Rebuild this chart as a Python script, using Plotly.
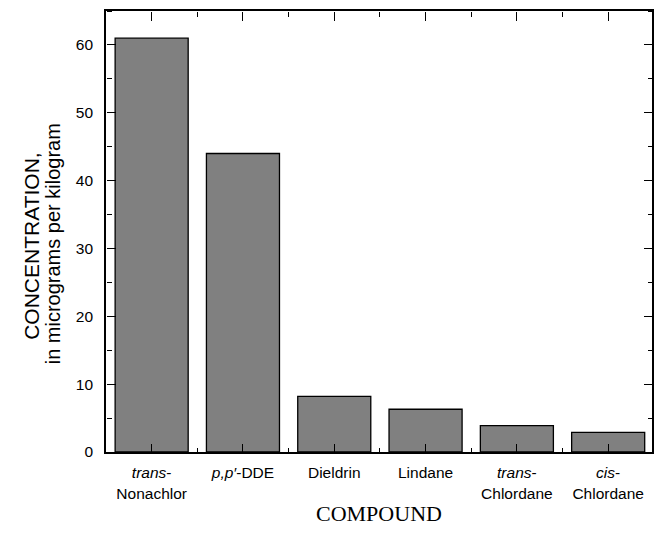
import plotly.graph_objects as go

compounds = ["<i>trans</i>-<br>Nonachlor", "<i>p,p′</i>-DDE", "Dieldrin", "Lindane",
             "<i>trans</i>-<br>Chlordane", "<i>cis</i>-<br>Chlordane"]
concentration = [61, 44, 8.2, 6.3, 3.9, 2.9]
y_ticks = [0, 10, 20, 30, 40, 50, 60]

positions = list(range(len(compounds)))
boundaries = [p + 0.5 for p in positions[:-1]]
x_range = [-0.5, 5.48]
y_range = [0, 65]

fig = go.Figure(go.Bar(
    x=positions, y=concentration, width=0.8,
    marker=dict(color="#808080", line=dict(color="black", width=1.3)),
    hoverinfo="skip",
))
# empty helper traces so the overlay tick axes are drawn
for xa, ya in (("x2", "y2"), ("x3", "y3")):
    fig.add_trace(go.Scatter(x=[], y=[], xaxis=xa, yaxis=ya, mode="markers",
                             showlegend=False, hoverinfo="skip"))

axis_font = dict(family="Liberation Sans, Arial, sans-serif", size=15.5, color="black")
sans = "Liberation Sans, Arial, sans-serif"

tick_style = dict(ticks="outside", ticklen=8.5, tickwidth=1.4, tickcolor="black",
                  showticklabels=False, showline=False, showgrid=False, zeroline=False,
                  anchor="free")
minor_style = dict(ticks="outside", ticklen=4.5, tickwidth=1.4, tickcolor="black",
                   showgrid=False)

fig.update_layout(
    template="none",
    width=659, height=537,
    margin=dict(l=106, r=7, t=11, b=85),
    paper_bgcolor="white", plot_bgcolor="white",
    showlegend=False,
    xaxis=dict(
        range=x_range, tickmode="array", tickvals=positions, ticktext=compounds,
        ticks="", showline=True, linecolor="black", linewidth=1.6, mirror=True,
        showgrid=False, zeroline=False, tickfont=axis_font, ticklabelstandoff=6,
    ),
    yaxis=dict(
        range=y_range, tickmode="array", tickvals=y_ticks,
        ticks="", showline=True, linecolor="black", linewidth=1.6, mirror=True,
        showgrid=False, zeroline=False, tickfont=axis_font, ticklabelstandoff=8,
    ),
    # inward-pointing ticks on all four sides
    xaxis2=dict(overlaying="x", side="top", position=0, range=x_range,
                tickmode="array", tickvals=positions,
                minor=dict(tickvals=boundaries, **minor_style), **tick_style),
    xaxis3=dict(overlaying="x", side="bottom", position=1, range=x_range,
                tickmode="array", tickvals=positions,
                minor=dict(tickvals=boundaries, **minor_style), **tick_style),
    yaxis2=dict(overlaying="y", side="right", position=0, range=y_range,
                tickmode="array", tickvals=y_ticks,
                minor=dict(dtick=5, tick0=0, **minor_style), **tick_style),
    yaxis3=dict(overlaying="y", side="left", position=1, range=y_range,
                tickmode="array", tickvals=y_ticks,
                minor=dict(dtick=5, tick0=0, **minor_style), **tick_style),
    annotations=[
        dict(text="CONCENTRATION,", textangle=-90,
             xref="paper", yref="paper", x=(18 - 106) / 546, y=(451.7 - 246) / 441,
             showarrow=False, font=dict(family=sans, size=21, color="black")),
        dict(text="in micrograms per kilogram", textangle=-90,
             xref="paper", yref="paper", x=(40 - 106) / 546, y=(451.7 - 244) / 441,
             showarrow=False, font=dict(family=sans, size=20, color="black")),
        dict(text="COMPOUND", xref="paper", yref="paper", x=0.5, y=(451.7 - 528) / 441,
             showarrow=False,
             font=dict(family="Liberation Serif, Times New Roman, serif", size=22, color="black")),
    ],
)

fig.write_html("out.html")
